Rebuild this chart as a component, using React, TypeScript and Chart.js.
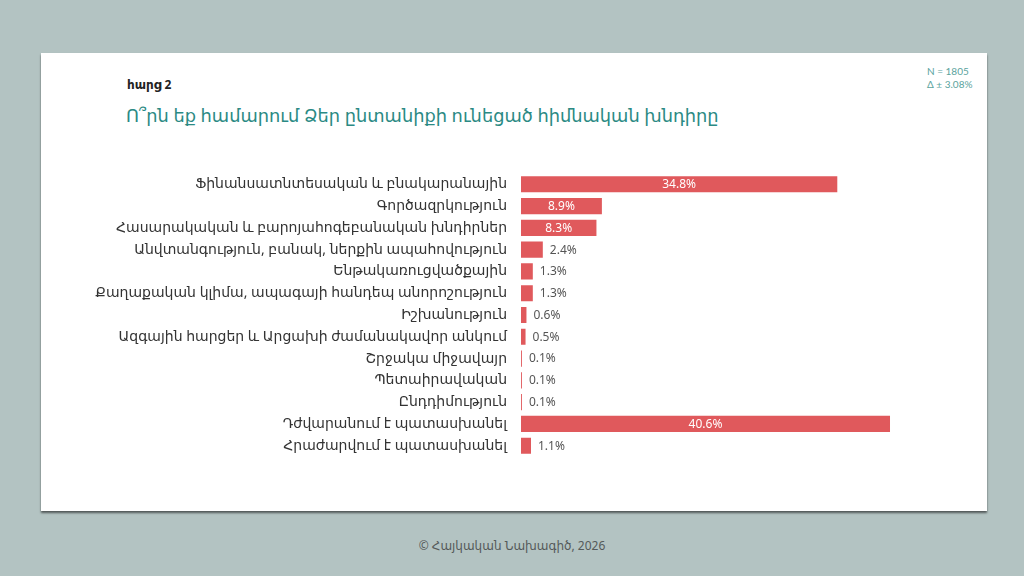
import React, { useEffect, useRef } from "react";
import { Chart, registerables } from "chart.js";

Chart.register(...registerables);

const categories: string[] = [
  "Ֆինանսատնտեսական և բնակարանային",
  "Գործազրկություն",
  "Հասարակական և բարոյահոգեբանական խնդիրներ",
  "Անվտանգություն, բանակ, ներքին ապահովություն",
  "Ենթակառուցվածքային",
  "Քաղաքական կլիմա, ապագայի հանդեպ անորոշություն",
  "Իշխանություն",
  "Ազգային հարցեր և Արցախի ժամանակավոր անկում",
  "Շրջակա միջավայր",
  "Պետաիրավական",
  "Ընդդիմություն",
  "Դժվարանում է պատասխանել",
  "Հրաժարվում է պատասխանել",
];

const values: number[] = [34.8, 8.9, 8.3, 2.4, 1.3, 1.3, 0.6, 0.5, 0.1, 0.1, 0.1, 40.6, 1.1];

const questionLabel = "հարց 2";
const titleText = "Ո՞րն եք համարում Ձեր ընտանիքի ունեցած հիմնական խնդիրը";
const sampleText = "N = 1805";
const marginText = "Δ ± 3.08%";
const footerText = "© Հայկական Նախագիծ, 2026";

const BAR_COLOR = "#e0595c";
const FONT = "'Noto Sans', 'DejaVu Sans', sans-serif";
const NUM_FONT = "'Noto Sans', Lato, sans-serif";

const valueLabelPlugin = {
  id: "valueLabels",
  afterDatasetsDraw(chart: any) {
    const ctx = chart.ctx;
    const meta = chart.getDatasetMeta(0);
    ctx.save();
    ctx.font = `12px ${NUM_FONT}`;
    ctx.textBaseline = "middle";
    meta.data.forEach((bar: any, i: number) => {
      const v = values[i];
      const txt = v.toFixed(1) + "%";
      if (v >= 5) {
        ctx.fillStyle = "#ffffff";
        ctx.textAlign = "center";
        ctx.fillText(txt, (bar.base + bar.x) / 2, bar.y + 0.5);
      } else {
        ctx.fillStyle = "#555555";
        ctx.textAlign = "left";
        ctx.fillText(txt, bar.x + 7, bar.y + 0.5);
      }
    });
    ctx.restore();
  },
};

function BarChart() {
  const ref = useRef<HTMLCanvasElement | null>(null);
  useEffect(() => {
    if (!ref.current) return;
    const chart = new Chart(ref.current, {
      type: "bar",
      data: {
        labels: categories,
        datasets: [
          {
            data: values,
            backgroundColor: BAR_COLOR,
            borderWidth: 0,
            categoryPercentage: 1,
            barPercentage: 0.74,
          },
        ],
      },
      options: {
        indexAxis: "y",
        animation: false,
        responsive: false,
        maintainAspectRatio: false,
        layout: { padding: 0 },
        plugins: {
          legend: { display: false },
          title: { display: false },
          tooltip: { enabled: false },
        },
        scales: {
          x: {
            display: false,
            min: 0,
            max: 45,
          },
          y: {
            grid: { display: false, drawTicks: false },
            border: { display: false },
            ticks: {
              padding: 14,
              color: "#333333",
              font: { family: FONT, size: 14 },
              autoSkip: false,
            },
            afterFit(scale: any) {
              scale.width = 471;
            },
          },
        },
      },
      plugins: [valueLabelPlugin],
    });
    return () => chart.destroy();
  }, []);
  return (
    <canvas
      ref={ref}
      width={880}
      height={328}
      style={{ position: "absolute", left: 50, top: 151, width: 880, height: 328 }}
    />
  );
}

export default function App() {
  return (
    <div
      style={{
        position: "fixed",
        left: 0,
        top: 0,
        width: 1024,
        height: 576,
        background: "#b3c3c2",
        fontFamily: FONT,
        overflow: "hidden",
      }}
    >
      <div
        style={{
          position: "absolute",
          left: 41,
          top: 53,
          width: 946,
          height: 458,
          background: "#ffffff",
          boxShadow: "0 2px 2px rgba(0,0,0,0.55)",
        }}
      />
      <div
        style={{
          position: "absolute",
          left: 127,
          top: 76,
          fontSize: 12,
          fontWeight: 700,
          color: "#222222",
        }}
      >
        {questionLabel}
      </div>
      <div
        style={{
          position: "absolute",
          left: 126,
          top: 103,
          fontSize: 17.8,
          fontWeight: 500,
          color: "#2b8a84",
          whiteSpace: "nowrap",
        }}
      >
        {titleText}
      </div>
      <div
        style={{
          position: "absolute",
          left: 927,
          top: 65,
          fontSize: 10,
          lineHeight: "13px",
          color: "#5aa39d",
          fontFamily: "Lato, sans-serif",
        }}
      >
        <div>{sampleText}</div>
        <div>{marginText}</div>
      </div>
      <BarChart />
      <div
        style={{
          position: "absolute",
          left: 0,
          width: 1024,
          top: 537,
          textAlign: "center",
          fontSize: 12,
          color: "#555a5a",
        }}
      >
        {footerText}
      </div>
    </div>
  );
}
